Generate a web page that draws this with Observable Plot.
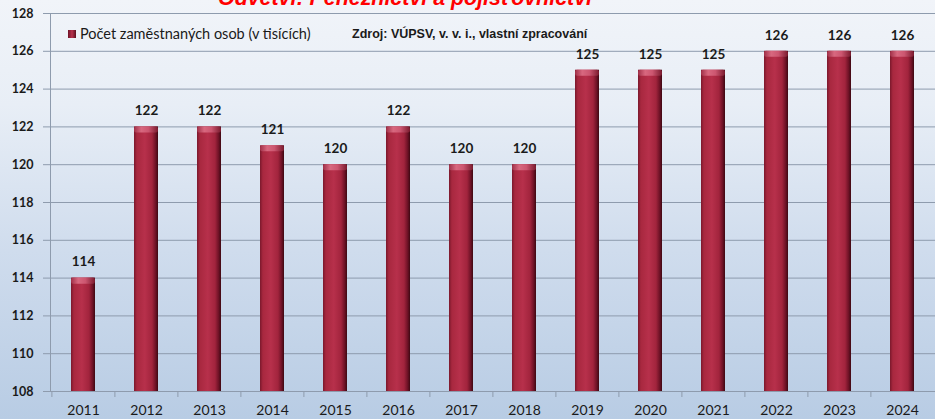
<!DOCTYPE html>
<html><head><meta charset="utf-8">
<script src="https://cdn.jsdelivr.net/npm/d3@7"></script>
<script src="https://cdn.jsdelivr.net/npm/@observablehq/plot@0.6"></script>
<style>
body{margin:0;}
#wrap{position:relative;width:935px;height:419px;overflow:hidden;
 background:linear-gradient(to bottom,#f1f4f9 0%,#e8eef6 25%,#cfdced 60%,#b8cce4 100%);
 font-family:Lato,"Open Sans",sans-serif;}
#title{position:absolute;left:218px;top:-12px;font:italic bold 21.4px/21px "Liberation Sans",Arial,sans-serif;color:#ff0000;white-space:nowrap;}
#legend{position:absolute;left:68px;top:25px;font-size:14.5px;color:#1a1a1a;white-space:nowrap;display:flex;align-items:center;}
#legend .sw{width:8px;height:8px;margin-right:4px;background:linear-gradient(to right,#6e1226,#b8324d,#5a0f1e);}
#source{position:absolute;left:352px;top:26px;font:bold 12.5px/16px "Liberation Sans",Arial,sans-serif;color:#1a1a1a;white-space:nowrap;}
svg{position:absolute;left:0;top:0;}
</style></head>
<body>
<div id="wrap">
<div id="title">Odvětví: Peněžnictví a pojišťovnictví</div>
<div id="legend"><span class="sw"></span>Počet zaměstnaných osob (v tisících)</div>
<div id="source">Zdroj: VÚPSV, v. v. i., vlastní zpracování</div>
</div>
<script>
const years = ["2011","2012","2013","2014","2015","2016","2017","2018","2019","2020","2021","2022","2023","2024"];
const values = [114,122,122,121,120,122,120,120,125,125,125,126,126,126];
const yTicks = [108,110,112,114,116,118,120,122,124,126,128];
const data = years.map((year, i) => ({year, value: values[i]}));

const W = 935, H = 419, mL = 50, mR = 0, mT = 13, mB = 28;
const step = (W - mL - mR) / years.length;
const gridColor = "#8e9bad";

const defs = () => {
  const d = d3.create("svg:defs");
  const g = d.append("linearGradient").attr("id", "barGrad").attr("x1", "0").attr("x2", "1").attr("y1", "0").attr("y2", "0");
  [[0,"#7a182c"],[0.12,"#a8283f"],[0.45,"#b7304b"],[0.75,"#a2243d"],[0.9,"#6e1226"],[1,"#3e0812"]]
    .forEach(([o,c]) => g.append("stop").attr("offset", o).attr("stop-color", c));
  const c = d.append("linearGradient").attr("id", "capGrad").attr("x1", "0").attr("x2", "1").attr("y1", "0").attr("y2", "0");
  [[0,"#a03048"],[0.3,"#d8687f"],[0.6,"#cc5670"],[1,"#7a1a2e"]]
    .forEach(([o,col]) => c.append("stop").attr("offset", o).attr("stop-color", col));
  return d.node();
};

const chart = Plot.plot({
  width: W, height: H,
  marginLeft: mL, marginRight: mR, marginTop: mT, marginBottom: mB,
  style: {background: "transparent", fontFamily: "Lato, 'Open Sans', sans-serif", color: "#1a1a1a", overflow: "visible"},
  x: {type: "band", domain: years, paddingInner: 0.62, paddingOuter: 0.31},
  y: {domain: [108, 128]},
  marks: [
    defs,
    Plot.ruleY(yTicks, {stroke: gridColor, strokeWidth: 1}),
    Plot.ruleX(years, {x: d => d, y1: 108, y2: 108, insetBottom: -6, dx: -step / 2, stroke: gridColor}),
    Plot.barY(data, {x: "year", y1: 108, y2: "value", fill: "url(#barGrad)"}),
    Plot.barY(data, {x: "year", y1: d => d.value - 0.32, y2: "value", fill: "url(#capGrad)", rx: 2}),
    Plot.text(data, {x: "year", y: "value", text: d => String(d.value), dy: -16, fontWeight: "bold", fontSize: 13.5, fill: "#1a1a1a"}),
    Plot.axisY({ticks: yTicks, tickSize: 7, tickPadding: 10, fontWeight: "bold", fontSize: 12.5, stroke: gridColor, label: null}),
    Plot.axisX({tickSize: 0, tickPadding: 14, fontSize: 14, label: null}),
    Plot.frame({anchor: "left", stroke: gridColor})
  ]
});
document.getElementById("wrap").prepend(chart);
</script>
</body></html>
